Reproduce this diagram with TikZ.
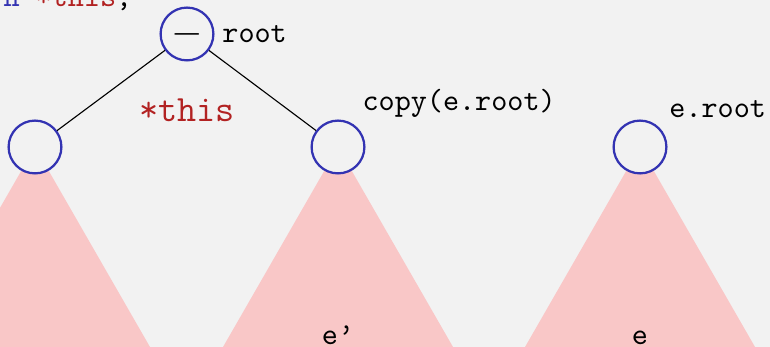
\documentclass[tikz,border=0pt]{standalone}
\usepackage{xcolor}
\definecolor{treeblue}{RGB}{51,51,178}
\definecolor{treered}{RGB}{178,34,34}
\definecolor{treepink}{RGB}{249,199,199}
\definecolor{slidebg}{RGB}{242,242,242}
\usetikzlibrary{positioning}

\begin{document}
\begin{tikzpicture}[
    treenode/.style={circle, draw=treeblue, thick, fill=slidebg,
                     minimum size=0.66cm, inner sep=0pt},
    subtree/.style={fill=treepink},
    codelbl/.style={font=\fontsize{10.9}{13}\selectfont\ttfamily},
  ]
  % Slide background
  \useasboundingbox (0,0) rectangle (9.625,4.3375);
  \clip (0,0) rectangle (9.625,4.3375);
  \fill[slidebg] (0,0) rectangle (9.625,4.3375);

  % Code line, cut off at the top
  \node[codelbl, anchor=base east, inner sep=0pt] (code) at (1.66,4.25)
       {\textcolor{treeblue}{return} \textcolor{treered}{*this};};

  % Subtrees
  \coordinate (lefttop)  at (0.4375,2.5);
  \coordinate (midtop)   at (4.225,2.5);
  \coordinate (othertop) at (8.0,2.5);
  \fill[subtree] (lefttop)  -- ++(-1.725,-3) -- ++(3.45,0) -- cycle;
  \fill[subtree] (midtop)   -- ++(-1.725,-3) -- ++(3.45,0) -- cycle;
  \fill[subtree] (othertop) -- ++(-1.725,-3) -- ++(3.45,0) -- cycle;

  % Tree nodes
  \node[treenode, font=\fontsize{13.5}{15}\selectfont] (root) at (2.3375,3.9125) {$-$};
  \node[treenode] (left)  at (lefttop) {};
  \node[treenode] (mid)   at (midtop) {};
  \node[treenode] (other) at (othertop) {};

  \draw (root) -- (left);
  \draw (root) -- (mid);

  % Labels
  \node[codelbl, right=-0.025cm of root] (rootlbl) {root};
  \node[codelbl, above right=0pt and -0.06cm of mid] (copylbl) {copy(e.root)};
  \node[codelbl, above right=0pt of other] (otherlbl) {e.root};
  \node[font=\fontsize{13.2}{15}\selectfont\ttfamily, text=treered, anchor=base]
       (thislbl) at (2.3375,2.8125) {*this};
  \node[codelbl, anchor=base] (eprime) at (4.225,0.025) {e’};
  \node[codelbl, anchor=base] (elbl) at (8.0,0.025) {e};
\end{tikzpicture}
\end{document}
